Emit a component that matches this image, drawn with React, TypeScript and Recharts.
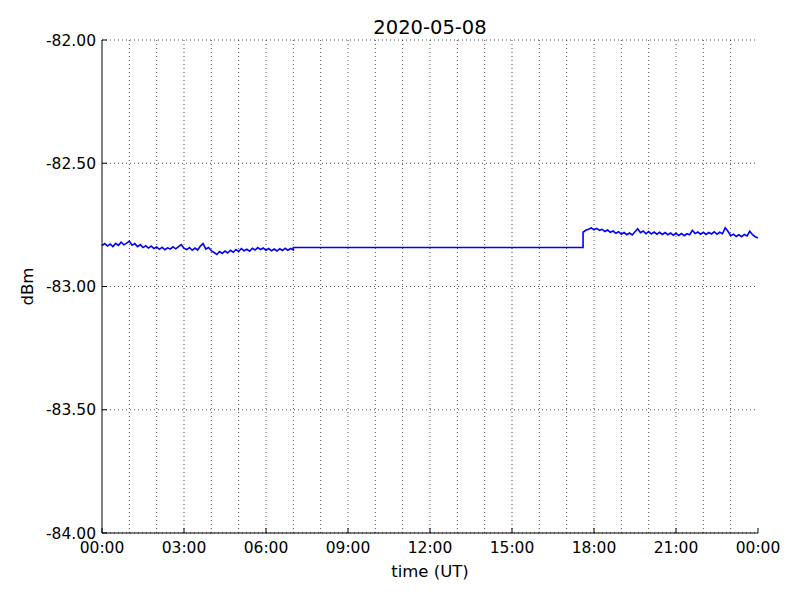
import { LineChart, Line, XAxis, YAxis, CartesianGrid, ReferenceLine } from "recharts";

// signal level, sampled every 0.1 h
const STEP = 0.1;
const MORNING_START = 0;
const MORNING = [
  -82.834, -82.826, -82.836, -82.828, -82.838, -82.825, -82.833, -82.82, -82.831, -82.824,
  -82.816, -82.832, -82.826, -82.838, -82.83, -82.842, -82.835, -82.844, -82.836, -82.846,
  -82.84, -82.849, -82.841, -82.851, -82.843, -82.848, -82.839, -82.847, -82.838, -82.83,
  -82.845, -82.85, -82.842, -82.853, -82.844, -82.852, -82.836, -82.826, -82.848, -82.842,
  -82.855, -82.862, -82.87, -82.858, -82.866, -82.856, -82.864, -82.853, -82.861, -82.85,
  -82.858, -82.846, -82.855, -82.849, -82.857, -82.845, -82.852, -82.842, -82.85, -82.844,
  -82.853, -82.846, -82.855, -82.848, -82.856, -82.847, -82.854, -82.845, -82.853, -82.846,
  -82.852,
];

// no data between these two times, the recorder holds one level
const GAP_TIMES = [7.0, 17.6];
const GAP = [-82.842, -82.842];

const EVENING_START = 17.6;
const EVENING = [
  -82.78, -82.772, -82.768, -82.762, -82.77, -82.764, -82.772, -82.768, -82.777, -82.771,
  -82.78, -82.775, -82.784, -82.778, -82.788, -82.781, -82.79, -82.783, -82.791, -82.778,
  -82.766, -82.782, -82.775, -82.786, -82.777, -82.787, -82.779, -82.788, -82.78, -82.789,
  -82.781, -82.79, -82.783, -82.792, -82.784, -82.793, -82.785, -82.794, -82.786, -82.79,
  -82.772, -82.785, -82.779, -82.788, -82.78, -82.789, -82.781, -82.787, -82.778, -82.788,
  -82.78, -82.786, -82.762, -82.776, -82.794, -82.788, -82.797, -82.79, -82.798, -82.789,
  -82.795, -82.776, -82.79, -82.798, -82.803,
];

const X_TICKS = [0, 3, 6, 9, 12, 15, 18, 21, 24];
const HOURS = [1, 2, 3, 4, 5, 6, 7, 8, 9, 10, 11, 12, 13, 14, 15, 16, 17, 18, 19, 20, 21, 22, 23];
const Y_TICKS = [-84, -83.5, -83, -82.5, -82];

const data = [
  ...MORNING.map((v, i) => ({ t: +(MORNING_START + i * STEP).toFixed(2), v })),
  ...GAP.map((v, i) => ({ t: GAP_TIMES[i], v })),
  ...EVENING.map((v, i) => ({ t: +(EVENING_START + i * STEP).toFixed(2), v })),
];

const FONT = "DejaVu Sans";
const tickStyle = { fill: "#000", fontSize: 15.5, fontFamily: FONT };
const fmtHour = (h: number) => `${String(h % 24).padStart(2, "0")}:00`;
const blank = () => "";

export default function App() {
  return (
    <div style={{ position: "absolute", left: 0, top: 0, width: 800, height: 600, background: "#fff" }}>
      <LineChart width={800} height={600} data={data} margin={{ top: 40, right: 42, bottom: 0, left: 0 }}>
        <CartesianGrid vertical={false} stroke="#000" strokeDasharray="1 3" strokeWidth={0.7} />
        {HOURS.map((h) => (
          <ReferenceLine key={h} x={h} stroke="#000" strokeDasharray="1 3" strokeWidth={0.7} />
        ))}
        <XAxis
          dataKey="t"
          type="number"
          domain={[0, 24]}
          ticks={X_TICKS}
          interval={0}
          height={67}
          tickSize={-5}
          tickMargin={14}
          stroke="#000"
          tick={tickStyle}
          tickFormatter={fmtHour}
        />
        <XAxis
          xAxisId="top"
          orientation="top"
          dataKey="t"
          type="number"
          domain={[0, 24]}
          ticks={X_TICKS}
          interval={0}
          height={0}
          tickSize={-5}
          stroke="#000"
          tickFormatter={blank}
        />
        <YAxis
          type="number"
          domain={[-84, -82]}
          ticks={Y_TICKS}
          interval={0}
          width={102}
          tickSize={-5}
          tickMargin={11}
          stroke="#000"
          tick={tickStyle}
          tickFormatter={(v: number) => v.toFixed(2)}
        />
        <YAxis
          yAxisId="right"
          orientation="right"
          type="number"
          domain={[-84, -82]}
          ticks={Y_TICKS}
          interval={0}
          width={0}
          tickSize={-5}
          stroke="#000"
          tickFormatter={blank}
        />
        <Line
          dataKey="v"
          type="linear"
          stroke="#0000ff"
          strokeWidth={1.6}
          dot={false}
          isAnimationActive={false}
        />
      </LineChart>
      <svg width={800} height={600} style={{ position: "absolute", left: 0, top: 0, pointerEvents: "none" }}>
        <text x={430} y={33.5} textAnchor="middle" fontFamily={FONT} fontSize={19.5} fill="#000">
          2020-05-08
        </text>
        <text x={430} y={577} textAnchor="middle" fontFamily={FONT} fontSize={16.5} fill="#000">
          time (UT)
        </text>
        <text
          x={33}
          y={286.5}
          transform="rotate(-90 33 286.5)"
          textAnchor="middle"
          fontFamily={FONT}
          fontSize={16.5}
          fill="#000"
        >
          dBm
        </text>
      </svg>
    </div>
  );
}
